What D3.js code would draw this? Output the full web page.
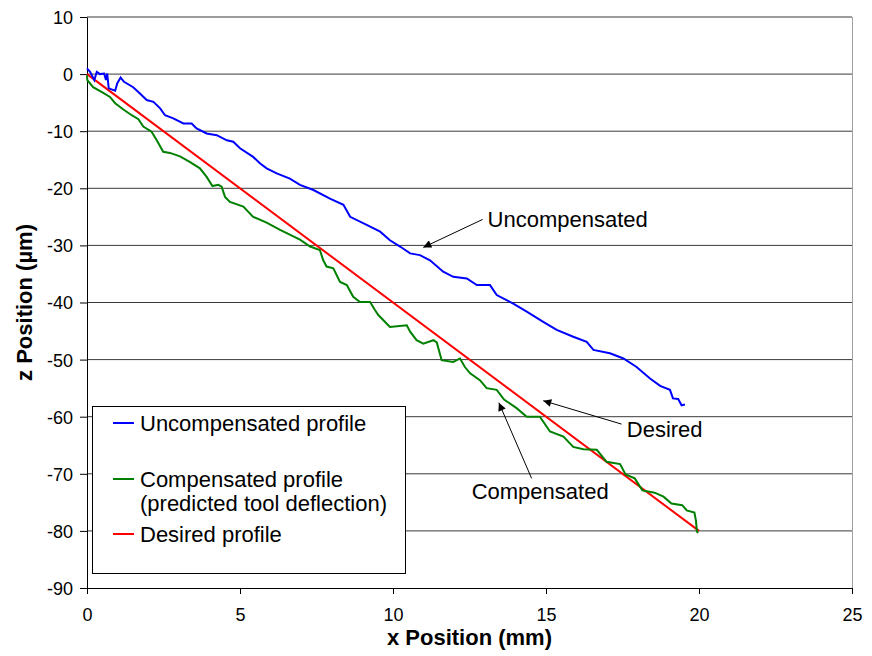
<!DOCTYPE html>
<html>
<head>
<meta charset="UTF-8">
<script src="https://cdn.jsdelivr.net/npm/d3@7"></script>
<style>
  body { margin: 0; background: #fff; }
  text { font-family: Arial, "Liberation Sans", sans-serif; }
</style>
</head>
<body>
<svg width="872" height="656"></svg>
<script>
// series: [x (mm), z (µm)]
const uncompensated = [
  [0, 1.0], [0.1, 0.4], [0.24, -1.05], [0.32, 0.4], [0.42, 0], [0.56, 0.1], [0.62, -1.05],
  [0.66, 0.1], [0.71, -2.5], [0.92, -2.9], [0.99, -1.6], [1.10, -0.6], [1.21, -1.35],
  [1.51, -2.3], [1.73, -3.4], [1.95, -4.55], [2.17, -4.85], [2.39, -6.0], [2.55, -7.2],
  [2.82, -7.75], [3.15, -8.65], [3.42, -8.65], [3.58, -9.5], [3.91, -10.4], [4.24, -10.7],
  [4.57, -11.6], [4.78, -11.85], [5.0, -13.0], [5.43, -14.5], [5.65, -15.6], [5.87, -16.5],
  [6.2, -17.4], [6.63, -18.3], [6.96, -19.4], [7.4, -20.3], [7.94, -21.8], [8.38, -22.9],
  [8.6, -25.0], [9.14, -26.4], [9.58, -27.6], [9.9, -29.1], [10.23, -30.2], [10.56, -31.4],
  [10.88, -31.7], [11.21, -32.6], [11.64, -34.6], [11.97, -35.5], [12.41, -35.8],
  [12.74, -36.95], [13.17, -36.95], [13.39, -38.7], [13.93, -40.2], [14.37, -41.6],
  [14.91, -43.4], [15.35, -44.8], [15.89, -46.0], [16.33, -46.9], [16.55, -48.3],
  [17.09, -48.9], [17.53, -49.8], [17.96, -51.3], [18.4, -53.3], [18.73, -54.6],
  [19.05, -55.3], [19.15, -56.8], [19.32, -56.9], [19.43, -58.0], [19.54, -57.85]
];

const compensated = [
  [0, -0.2], [0.01, -1.05], [0.2, -2.3], [0.53, -3.3], [0.75, -4.0], [0.92, -5.1],
  [1.19, -6.2], [1.46, -7.2], [1.68, -7.9], [1.84, -9.2], [2.11, -10.1], [2.28, -11.6],
  [2.49, -13.6], [2.71, -13.8], [3.04, -14.4], [3.37, -15.4], [3.69, -16.5], [3.91, -18.0],
  [4.10, -19.6], [4.29, -19.4], [4.40, -19.7], [4.51, -21.5], [4.67, -22.4], [5.11, -23.2],
  [5.43, -25.0], [5.87, -26.0], [6.31, -27.3], [6.96, -29.0], [7.29, -30.2], [7.61, -30.8],
  [7.72, -32.6], [7.83, -33.7], [8.05, -34.0], [8.27, -36.4], [8.49, -36.95], [8.7, -39.0],
  [8.92, -39.9], [9.25, -39.9], [9.41, -41.3], [9.52, -42.2], [9.9, -44.3], [10.45, -44.0],
  [10.56, -45.1], [10.77, -46.6], [10.99, -47.2], [11.32, -46.6], [11.43, -47.0],
  [11.59, -50.1], [11.97, -50.4], [12.19, -49.8], [12.35, -51.3], [12.52, -52.4],
  [12.84, -53.6], [13.06, -55.0], [13.39, -55.3], [13.63, -57.0], [14.04, -58.5],
  [14.37, -60.0], [14.8, -60.0], [15.13, -62.6], [15.57, -63.5], [15.89, -65.3],
  [16.22, -65.7], [16.66, -65.8], [16.98, -67.9], [17.42, -68.3], [17.6, -70.1],
  [17.9, -70.8], [18.15, -72.9], [18.55, -73.3], [18.84, -74.0], [19.1, -75.2],
  [19.45, -75.5], [19.6, -76.4], [19.85, -76.8], [19.9, -78.2], [19.93, -80.0], [19.96, -80.4]
];

const desired = [[0, 0], [20, -80]];

const xTicks = [0, 5, 10, 15, 20, 25];
const yTicks = [10, 0, -10, -20, -30, -40, -50, -60, -70, -80, -90];

const legendItems = [
  { color: "#0000ff", lines: ["Uncompensated profile"] },
  { color: "#008000", lines: ["Compensated profile", "(predicted tool deflection)"] },
  { color: "#ff0000", lines: ["Desired profile"] }
];

// callouts: label anchor, arrow start, arrow tip (data units)
const callouts = [
  { text: "Uncompensated", at: [13.09, -26.8], from: [12.93, -25.45], to: [10.99, -30.35] },
  { text: "Desired", at: [17.64, -63.6], from: [17.47, -61.3], to: [14.91, -57.2] },
  { text: "Compensated", at: [12.57, -74.4], from: [14.53, -70.8], to: [13.46, -57.56] }
];

const svg = d3.select("svg");
const plotL = 87, plotR = 852, plotT = 17, plotB = 588;

const x = d3.scaleLinear().domain([0, 25]).range([plotL, plotR]);
const y = d3.scaleLinear().domain([-90, 10]).range([plotB, plotT]);

// gridlines
svg.append("g")
  .selectAll("line")
  .data(yTicks.filter(d => d > -90))
  .join("line")
  .attr("x1", plotL).attr("x2", plotR)
  .attr("y1", d => y(d)).attr("y2", d => y(d))
  .attr("stroke", "#3a3a3a").attr("stroke-width", 1);

// right frame
svg.append("line")
  .attr("x1", plotR + 0.5).attr("x2", plotR + 0.5)
  .attr("y1", plotT).attr("y2", plotB)
  .attr("stroke", "#a0a0a0");

// axes (plain hyphen for negatives, like the original)
const fmt = d => String(d);
const yAxis = svg.append("g")
  .attr("transform", `translate(${plotL},0)`)
  .call(d3.axisLeft(y).tickValues(yTicks).tickFormat(fmt).tickSize(7).tickPadding(7).tickSizeOuter(0));
const xAxis = svg.append("g")
  .attr("transform", `translate(0,${plotB})`)
  .call(d3.axisBottom(x).tickValues(xTicks).tickFormat(fmt).tickSize(6).tickPadding(14).tickSizeOuter(0));

[xAxis, yAxis].forEach(g => {
  g.select(".domain").attr("stroke", "#000");
  g.selectAll(".tick line").attr("stroke", "#000");
  g.selectAll("text")
    .attr("fill", "#000")
    .style("font-size", "18px")
    .style("font-family", "Arial, 'Liberation Sans', sans-serif");
});
yAxis.selectAll("text").attr("dy", "0.36em");

// series
const line = d3.line().x(d => x(d[0])).y(d => y(d[1]));
svg.append("path").datum(desired)
  .attr("d", line).attr("fill", "none").attr("stroke", "#ff0000").attr("stroke-width", 2);
svg.append("path").datum(compensated)
  .attr("d", line).attr("fill", "none").attr("stroke", "#008000").attr("stroke-width", 2);
svg.append("path").datum(uncompensated)
  .attr("d", line).attr("fill", "none").attr("stroke", "#0000ff").attr("stroke-width", 2);

// arrows
svg.append("defs").append("marker")
  .attr("id", "arrow")
  .attr("viewBox", "0 0 10 10")
  .attr("refX", 10).attr("refY", 5)
  .attr("markerWidth", 10).attr("markerHeight", 8)
  .attr("markerUnits", "userSpaceOnUse")
  .attr("orient", "auto")
  .append("path").attr("d", "M0,0 L10,5 L0,10 Z").attr("fill", "#000");

const cg = svg.append("g");
callouts.forEach(c => {
  cg.append("line")
    .attr("x1", x(c.from[0])).attr("y1", y(c.from[1]))
    .attr("x2", x(c.to[0])).attr("y2", y(c.to[1]))
    .attr("stroke", "#000").attr("stroke-width", 1)
    .attr("marker-end", "url(#arrow)");
  cg.append("text")
    .attr("x", x(c.at[0])).attr("y", y(c.at[1]))
    .style("font-size", "22px")
    .text(c.text);
});

// legend
const lg = svg.append("g");
lg.append("rect")
  .attr("x", 92.5).attr("y", 406.5).attr("width", 313).attr("height", 167)
  .attr("fill", "#fff").attr("stroke", "#000");
const rows = [423, 479, 534];
legendItems.forEach((item, i) => {
  lg.append("line")
    .attr("x1", 113).attr("x2", 134)
    .attr("y1", rows[i]).attr("y2", rows[i])
    .attr("stroke", item.color).attr("stroke-width", 2);
  item.lines.forEach((t, j) => {
    lg.append("text")
      .attr("x", 140).attr("y", rows[i] + 8 + j * 24)
      .style("font-size", "22px")
      .text(t);
  });
});

// axis titles
svg.append("text")
  .attr("x", (plotL + plotR) / 2).attr("y", 645)
  .attr("text-anchor", "middle")
  .style("font-size", "22px").style("font-weight", "bold")
  .text("x Position (mm)");
svg.append("text")
  .attr("transform", `translate(32,${(plotT + plotB) / 2}) rotate(-90)`)
  .attr("text-anchor", "middle")
  .style("font-size", "22px").style("font-weight", "bold")
  .text("z Position (µm)");
</script>
</body>
</html>
